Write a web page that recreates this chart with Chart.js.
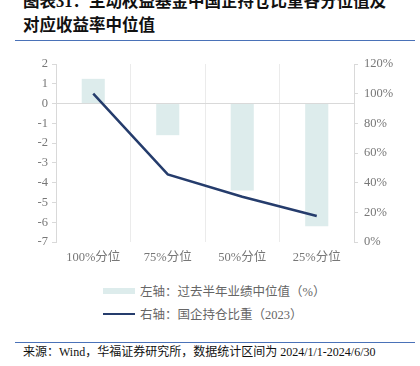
<!DOCTYPE html>
<html>
<head>
<meta charset="utf-8">
<script src="https://cdn.jsdelivr.net/npm/chart.js@4"></script>
<style>
  body { margin: 0; width: 420px; height: 366px; background: #fff; position: relative; overflow: hidden;
         font-family: "Liberation Serif", "Noto Sans CJK SC", serif; }
  .title { position: absolute; left: 23px; top: -10px; font-size: 16.5px; font-weight: bold; line-height: 24px; color: #111; white-space: nowrap; }
  .rule { position: absolute; left: 15px; width: 400px; height: 0; border-top: 1.3px solid #4a72b8; }
  #wrap { position: absolute; left: 0; top: 50px; width: 420px; height: 230px; }
  .legend { position: absolute; left: 103px; font-size: 12.5px; color: #666; display: flex; align-items: center; white-space: nowrap; }
  .legend span.sw { display: inline-block; width: 32px; margin-right: 5px; }
  .source { position: absolute; left: 23px; top: 342px; font-size: 12px; color: #111; white-space: nowrap; }
</style>
</head>
<body>
<div class="title">图表31：主动权益基金中国企持仓比重各分位值及<br>对应收益率中位值</div>
<div class="rule" style="top:40px"></div>
<div id="wrap"><canvas id="chart" width="420" height="230"></canvas></div>
<div class="legend" style="top:281px"><span class="sw" style="height:6px;background:#ddecec"></span>左轴：过去半年业绩中位值（%）</div>
<div class="legend" style="top:304px"><span class="sw" style="height:0;border-top:2.5px solid #253c6c"></span>右轴：国企持仓比重（2023）</div>
<div class="rule" style="top:342px"></div>
<div class="source">来源：Wind，华福证券研究所，数据统计区间为 2024/1/1-2024/6/30</div>
<script>
const categories = ['100%分位', '75%分位', '50%分位', '25%分位'];
const returnMedian = [1.25, -1.6, -4.4, -6.2];
const soeWeight = [1.00, 0.456, 0.305, 0.175];

const gray = '#777777';
const axisLine = '#d9d9d9';
const tickFont = { family: '"Liberation Serif", "Noto Sans CJK SC", serif', size: 12.5 };

new Chart(document.getElementById('chart').getContext('2d'), {
    data: {
        labels: categories,
        datasets: [{
            type: 'line',
            label: '右轴：国企持仓比重（2023）',
            data: soeWeight,
            yAxisID: 'y1',
            borderColor: '#253c6c',
            borderWidth: 2.5,
            pointRadius: 0,
            tension: 0
        }, {
            type: 'bar',
            label: '左轴：过去半年业绩中位值（%）',
            data: returnMedian,
            yAxisID: 'y',
            backgroundColor: '#ddecec',
            barPercentage: 0.31,
            categoryPercentage: 1
        }]
    },
    options: {
        responsive: false,
        animation: false,
        layout: { padding: { top: 14, right: 0, left: 0, bottom: 0 } },
        plugins: { legend: { display: false }, tooltip: { enabled: false } },
        scales: {
            x: {
                grid: { color: '#ebebeb', drawTicks: false, offset: true },
                border: { display: false },
                ticks: { color: gray, font: tickFont, padding: 8 },
                afterFit: s => { s.height = 38; }
            },
            y: {
                position: 'left',
                min: -7, max: 2,
                ticks: { stepSize: 1, color: gray, font: tickFont, padding: 4 },
                grid: {
                    color: c => c.tick && c.tick.value === 0 ? axisLine : 'rgba(0,0,0,0)',
                    tickColor: axisLine,
                    tickLength: 4
                },
                border: { color: axisLine },
                afterFit: s => { s.width = 56; }
            },
            y1: {
                position: 'right',
                min: 0, max: 1.2,
                ticks: {
                    stepSize: 0.2, color: gray, font: tickFont, padding: 6,
                    callback: v => Math.round(v * 100) + '%'
                },
                grid: { drawOnChartArea: false, tickColor: axisLine, tickLength: 4 },
                border: { color: axisLine },
                afterFit: s => { s.width = 66; }
            }
        }
    }
});
</script>
</body>
</html>
